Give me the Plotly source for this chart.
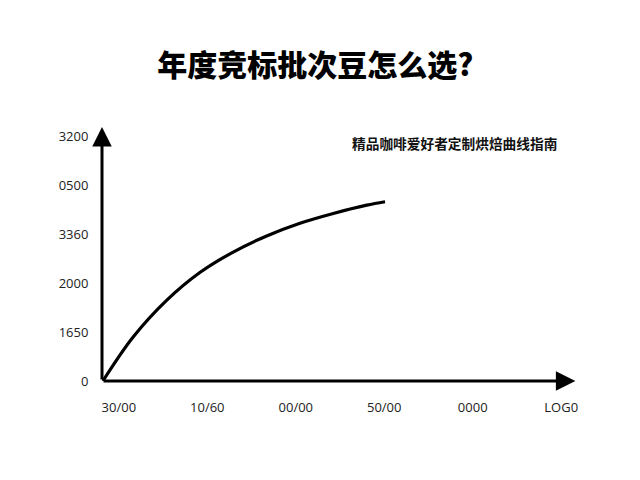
import plotly.graph_objects as go

# ---- data ----
title_text = "年度竞标批次豆怎么选?"
subtitle_text = "精品咖啡爱好者定制烘焙曲线指南"

x_tick_labels = ["30/00", "10/60", "00/00", "50/00", "0000", "LOG0"]
y_tick_labels = ["0", "1650", "2000", "3360", "0500", "3200"]

curve_x = [-0.18, 0.162, 0.540, 0.916, 1.293, 1.671, 2.048, 2.424, 2.802, 3.009]
curve_y = [0.0, 0.90, 1.65, 2.22, 2.64, 2.97, 3.23, 3.43, 3.60, 3.67]

x_origin = -0.19
x_range = [-0.19, 5.19]
y_range = [0, 5.2]
x_tip = 5.16
y_tip = 5.2

fig = go.Figure()
fig.add_trace(go.Scatter(
    x=curve_x, y=curve_y, mode="lines",
    line=dict(color="#000000", width=3.2, shape="spline", smoothing=1.0),
    hoverinfo="skip", showlegend=False,
))

# axis arrows
fig.add_annotation(x=x_tip, y=0, ax=x_origin, ay=0, xref="x", yref="y",
                   axref="x", ayref="y", showarrow=True, arrowhead=2,
                   arrowsize=1.3, arrowwidth=3, arrowcolor="#000000", text="")
fig.add_annotation(x=x_origin, y=y_tip, ax=x_origin, ay=0, xref="x", yref="y",
                   axref="x", ayref="y", showarrow=True, arrowhead=2,
                   arrowsize=1.3, arrowwidth=3, arrowcolor="#000000", text="")

# subtitle
fig.add_annotation(x=0.521, y=0.937, xref="paper", yref="paper",
                   xanchor="left", yanchor="middle", showarrow=False,
                   text="<b>" + subtitle_text + "</b>",
                   font=dict(family="Noto Sans CJK SC", size=13.7, color="#111111"))

fig.update_layout(
    width=640, height=480,
    margin=dict(l=94, r=70, t=119, b=107),
    paper_bgcolor="#ffffff", plot_bgcolor="#ffffff",
    title=dict(text=title_text, x=0.48, xanchor="center",
               y=0.881, yanchor="middle",
               font=dict(family="Noto Sans CJK SC", size=30, color="#000000",
                         weight=900)),
    xaxis=dict(range=x_range, tickvals=list(range(len(x_tick_labels))),
               ticktext=x_tick_labels, showgrid=False, zeroline=False,
               showline=False, ticks="outside", ticklen=14, tickcolor="rgba(0,0,0,0)",
               tickfont=dict(family="Open Sans", size=13, color="#222222"),
               fixedrange=True),
    yaxis=dict(range=y_range, tickvals=list(range(len(y_tick_labels))),
               ticktext=y_tick_labels, showgrid=False, zeroline=False,
               showline=False, ticks="outside", ticklen=10, tickcolor="rgba(0,0,0,0)",
               tickfont=dict(family="Open Sans", size=13, color="#222222"),
               fixedrange=True),
)

fig.write_html("out.html")
